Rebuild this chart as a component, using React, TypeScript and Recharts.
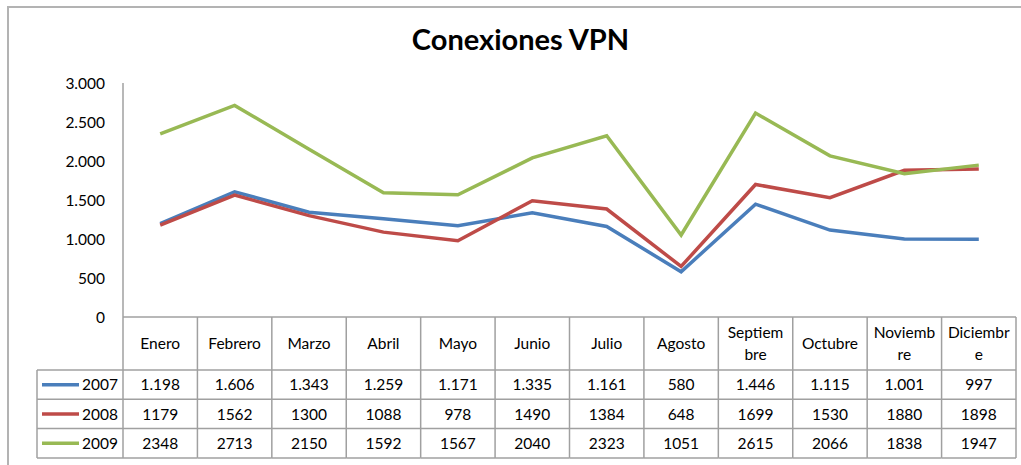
import React from "react";
import { ComposedChart, Line, XAxis, YAxis } from "recharts";

const months = ["Enero", "Febrero", "Marzo", "Abril", "Mayo", "Junio", "Julio", "Agosto", "Septiembre", "Octubre", "Noviembre", "Diciembre"];
const headerLabels = ["Enero", "Febrero", "Marzo", "Abril", "Mayo", "Junio", "Julio", "Agosto", "Septiem\nbre", "Octubre", "Noviemb\nre", "Diciembr\ne"];
const v2007 = [1198, 1606, 1343, 1259, 1171, 1335, 1161, 580, 1446, 1115, 1001, 997];
const v2008 = [1179, 1562, 1300, 1088, 978, 1490, 1384, 648, 1699, 1530, 1880, 1898];
const v2009 = [2348, 2713, 2150, 1592, 1567, 2040, 2323, 1051, 2615, 2066, 1838, 1947];
const yTicks = [0, 500, 1000, 1500, 2000, 2500, 3000];
const seriesNames = ["2007", "2008", "2009"];
const seriesColors = ["#4a7ebb", "#be4b48", "#98b954"];
const seriesValues = [v2007, v2008, v2009];
const seriesDotted = [true, false, false];

const data = months.map((m, i) => ({ month: m, s2007: v2007[i], s2008: v2008[i], s2009: v2009[i] }));
const seriesKeys = ["s2007", "s2008", "s2009"];

const FONT = "Lato, 'Open Sans', sans-serif";
const GRID = "#a0a0a0";

const PLOT_LEFT = 123;
const PLOT_RIGHT = 1016;
const PLOT_BOTTOM = 317;
const HEADER_BOTTOM = 370;
const ROW_H = 29.3;
const LEGEND_LEFT = 37;

const dotFmt = (n: number) => {
  if (n < 1000) return String(n);
  const t = Math.floor(n / 1000);
  const r = String(n % 1000).padStart(3, "0");
  return `${t}.${r}`;
};
const fmtVal = (n: number, dotted: boolean) => (dotted ? dotFmt(n) : String(n));

function TableTick(props: any) {
  const { x, payload } = props;
  const idx = months.indexOf(payload.value);
  const colW = (PLOT_RIGHT - PLOT_LEFT) / months.length;
  const left = x - colW / 2;
  const right = x + colW / 2;
  const tableBottom = HEADER_BOTTOM + ROW_H * seriesNames.length;
  const lines = headerLabels[idx].split("\n");
  const headerMid = (PLOT_BOTTOM + HEADER_BOTTOM) / 2;
  const lh = 22;
  return (
    <g>
      {idx === 0 && (
        <g>
          <line x1={left} y1={PLOT_BOTTOM} x2={left} y2={tableBottom} stroke={GRID} strokeWidth={1.5} />
          <line x1={LEGEND_LEFT} y1={HEADER_BOTTOM} x2={LEGEND_LEFT} y2={tableBottom} stroke={GRID} strokeWidth={1.5} />
          {seriesNames.map((s, r) => {
            const cy = HEADER_BOTTOM + ROW_H * r + ROW_H / 2;
            return (
              <g key={s}>
                <line x1={LEGEND_LEFT} y1={HEADER_BOTTOM + ROW_H * r} x2={left} y2={HEADER_BOTTOM + ROW_H * r} stroke={GRID} strokeWidth={1.5} />
                <line x1={42} y1={cy} x2={79} y2={cy} stroke={seriesColors[r]} strokeWidth={3.5} />
                <text x={118} y={cy} dy="0.36em" textAnchor="end" fontFamily={FONT} fontSize={15.5} fill="#000">{s}</text>
              </g>
            );
          })}
          <line x1={LEGEND_LEFT} y1={tableBottom} x2={left} y2={tableBottom} stroke={GRID} strokeWidth={1.5} />
        </g>
      )}
      <line x1={right} y1={PLOT_BOTTOM} x2={right} y2={tableBottom} stroke={GRID} strokeWidth={1.5} />
      <line x1={left} y1={HEADER_BOTTOM} x2={right} y2={HEADER_BOTTOM} stroke={GRID} strokeWidth={1.5} />
      {lines.map((ln, k) => (
        <text key={k} x={x} y={headerMid + (k - (lines.length - 1) / 2) * lh} dy="0.36em" textAnchor="middle" fontFamily={FONT} fontSize={15.5} fill="#000">{ln}</text>
      ))}
      {seriesValues.map((vals, r) => {
        const cy = HEADER_BOTTOM + ROW_H * r + ROW_H / 2;
        return (
          <g key={r}>
            <text x={x} y={cy} dy="0.36em" textAnchor="middle" fontFamily={FONT} fontSize={15.5} fill="#000">{fmtVal(vals[idx], seriesDotted[r])}</text>
            <line x1={left} y1={HEADER_BOTTOM + ROW_H * (r + 1)} x2={right} y2={HEADER_BOTTOM + ROW_H * (r + 1)} stroke={GRID} strokeWidth={1.5} />
          </g>
        );
      })}
    </g>
  );
}

export default function App() {
  return (
    <div style={{ position: "absolute", left: 0, top: 0, width: 1021, height: 465, overflow: "hidden", background: "#fff" }}>
      <div style={{ position: "absolute", left: 7, top: 6, width: 1200, height: 700, border: "2px solid #b3b3b3", boxSizing: "border-box" }} />
      <div style={{ position: "absolute", left: 0, top: 21, width: 1041, textAlign: "center", fontFamily: FONT, fontWeight: 700, fontSize: 29, color: "#000" }}>
        Conexiones VPN
      </div>
      <div style={{ position: "absolute", left: 0, top: 0 }}>
        <ComposedChart width={1021} height={465} data={data} margin={{ top: 83, right: 1021 - PLOT_RIGHT, bottom: 0, left: 0 }}>
          <XAxis
            dataKey="month"
            scale="band"
            height={465 - PLOT_BOTTOM - 0}
            interval={0}
            tickLine={false}
            axisLine={{ stroke: GRID, strokeWidth: 1.5 }}
            tick={<TableTick />}
          />
          <YAxis
            width={PLOT_LEFT}
            domain={[0, 3000]}
            ticks={yTicks}
            interval={0}
            tickLine={false}
            tickMargin={12}
            axisLine={{ stroke: GRID, strokeWidth: 1.5 }}
            tickFormatter={(v: number) => dotFmt(v)}
            tick={{ fontFamily: FONT, fontSize: 15.5, fill: "#000" }}
          />
          {seriesKeys.map((k, i) => (
            <Line key={k} dataKey={k} name={seriesNames[i]} stroke={seriesColors[i]} strokeWidth={3.5} dot={false} isAnimationActive={false} type="linear" />
          ))}
        </ComposedChart>
      </div>
    </div>
  );
}
